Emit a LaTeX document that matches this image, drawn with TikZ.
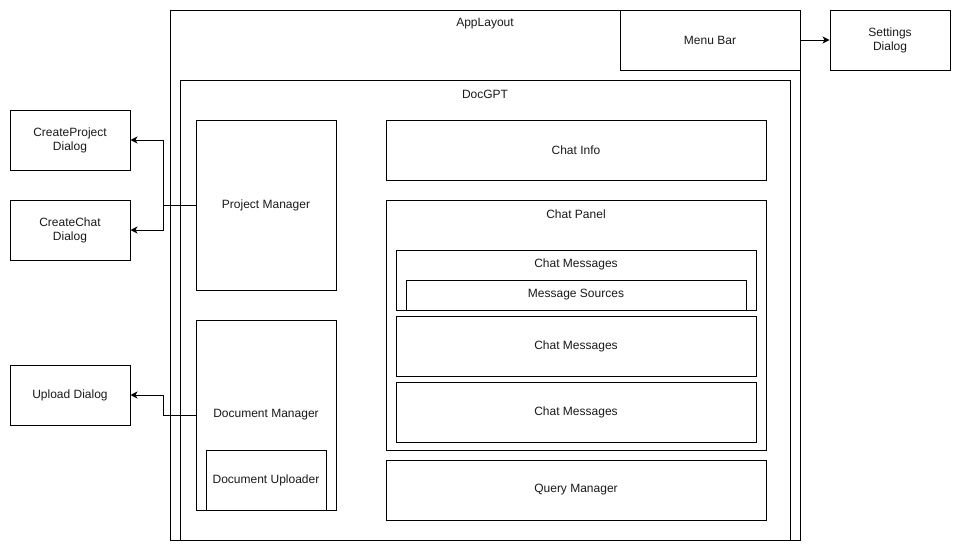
\documentclass[tikz,border=0pt]{standalone}
\usepackage{fontspec}
\setmainfont{Liberation Sans}
\usepackage{tikz}
\usetikzlibrary{arrows.meta,positioning,calc}
\definecolor{linea}{HTML}{000000}
\definecolor{texto}{HTML}{1A1A1A}
\tikzset{
  base/.style={draw=linea,line width=1pt,rectangle,fill=white,inner sep=0pt,
    font=\fontsize{12}{14}\selectfont,text=texto,align=center},
  box/.style={base,minimum width=#1},
  dialog/.style={base,minimum width=120pt,minimum height=60pt},
  container/.style={base,label={[font=\fontsize{12}{14}\selectfont,text=texto,
    anchor=center,yshift=-14.5pt]north:#1}},
  arrow/.style={-{Stealth[length=7pt,width=7pt,inset=2pt]},line width=1pt,draw=linea}
}
\begin{document}
\begin{tikzpicture}[x=1pt,y=-1pt]
\useasboundingbox[fill=white] (0,0) rectangle (961,552);

\node[container=AppLayout,minimum width=630pt,minimum height=530pt] (app) at (485,275) {};
\node[box=180pt,minimum height=60pt] (menu) at (710,40) {Menu Bar};
\node[dialog] (settings) at (890,40) {Settings\\Dialog};

\node[container=DocGPT,minimum width=610pt,minimum height=460pt] (docgpt) at (485,310) {};

\node[box=140pt,minimum height=170pt] (projmgr) at (266,205) {Project Manager};
\node[box=140pt,minimum height=190pt] (docmgr) at (266,415) {Document Manager};
\node[box=120pt,minimum height=60pt] (uploader) at (266,480) {Document Uploader};

\node[dialog] (cproject) at (70,140) {CreateProject\\Dialog};
\node[dialog] (cchat) at (70,230) {CreateChat\\Dialog};
\node[dialog] (upload) at (70,395) {Upload Dialog};

\node[box=380pt,minimum height=60pt] (chatinfo) at (576,150) {Chat Info};
\node[container=Chat Panel,minimum width=380pt,minimum height=250pt] (panel) at (576,325) {};
\node[container=Chat Messages,minimum width=360pt,minimum height=60pt] (msgA) at (576,280) {};
\node[box=340pt,minimum height=30pt] (sources) at (576,295) {Message Sources};
\node[box=360pt,minimum height=60pt] (msgB) at (576,346) {Chat Messages};
\node[box=360pt,minimum height=60pt] (msgC) at (576,412) {Chat Messages};
\node[box=380pt,minimum height=60pt] (query) at (576,490) {Query Manager};

\coordinate (projsplit) at (163,205);
\coordinate (docsplit) at (163,415);

\draw[arrow] (menu.east)--(settings.west);
\draw[arrow] (projmgr.west)--(projsplit)|-(cproject.east);
\draw[arrow] (projsplit)|-(cchat.east);
\draw[arrow] (docmgr.west)--(docsplit)|-(upload.east);
\end{tikzpicture}
\end{document}
